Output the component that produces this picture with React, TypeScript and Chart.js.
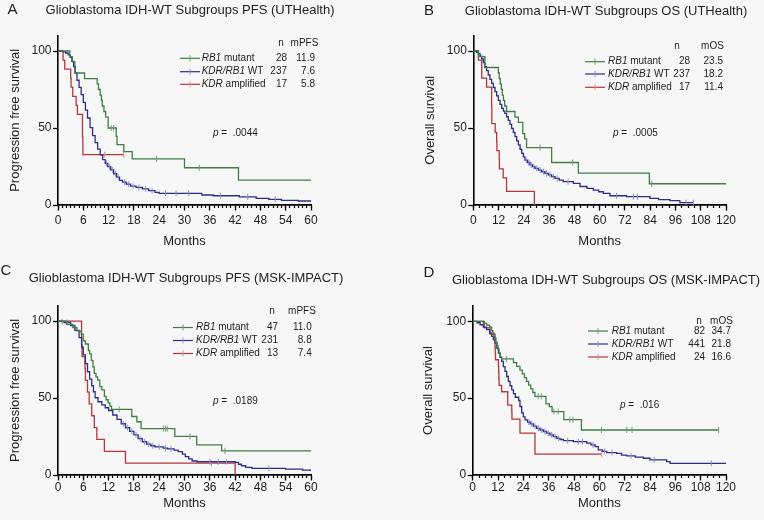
import React, { useEffect, useRef } from 'react';
import { Chart, registerables } from 'chart.js';

Chart.register(...registerables);

// ---------- DATA: [month, survival %, censored flag (1 = censor mark)] ----------
const A_RB1 = [[0,100],[2.8,96.4],[3.4,92.9],[4.0,85.7],[6.3,82.1],[9.3,78.6],[9.6,75.0],[10.0,71.4],[10.3,67.9],[10.5,64.3],[10.9,60.7],[11.3,57.1],[11.9,50.0],[12.6,50.0,1],[13.2,50.0,1],[13.8,44.6],[14.0,39.2],[15.6,34.6],[17.6,30.0],[23.4,30.0,1],[30.0,24.2],[33.5,24.2,1],[42.8,16.1],[60,16.1]];
const A_WT = [[0,100],[1.0,99.6],[1.8,98.7],[2.4,97.5],[2.9,95.8],[3.3,93.2],[3.7,89.9],[4.1,85.7],[4.5,81.0],[5.0,76.4],[5.5,71.7],[6.0,66.7],[6.5,61.6],[7.0,56.5],[7.6,50.2],[8.2,45.1],[8.8,40.5],[9.4,36.3],[10.0,32.5],[10.6,29.5],[11.2,27.0],[11.5,27.0,1],[11.8,24.9],[12.2,24.9,1],[12.5,22.8],[12.9,22.8,1],[13.2,20.3],[13.6,20.3,1],[13.9,18.1],[14.3,18.1,1],[14.6,16.0],[15.3,14.8],[15.8,14.8,1],[16.2,13.5],[16.7,13.5,1],[17.2,12.2],[17.8,12.2,1],[18.5,11.4],[19.2,11.4,1],[20.0,10.5],[20.8,10.5,1],[21.5,9.3],[22.3,9.3,1],[23.0,8.2],[24.0,7.6],[25.5,7.6,1],[28.0,7.6,1],[31.0,7.6,1],[34.1,6.5],[36.8,6.0],[38.5,6.0,1],[43.0,5.3],[45.0,5.3,1],[47.0,4.3],[50.0,3.7],[51.5,3.7,1],[53.0,3.0],[57.0,2.6],[60,2.6]];
const A_KDR = [[0,100],[1.2,94.1],[1.6,88.2],[3.0,82.4],[3.1,76.5],[3.5,70.6],[4.3,64.7],[4.6,58.8],[5.8,44.1],[5.9,32.7],[11.0,32.7,1],[15.6,32.7,1]];

const B_RB1 = [[0,100],[2.5,96.4],[5.5,89.3],[11.9,85.7],[12.3,82.1],[12.8,78.6],[13.3,75.0],[13.8,71.4],[14.3,67.9],[14.9,64.3],[15.8,60.7],[19.8,57.1],[21.4,53.6],[23.5,46.4],[24.4,42.9],[25.3,37.3],[31.7,37.3,1],[37.2,27.6],[47.2,27.6,1],[49.9,20.7],[83.6,13.8],[84.7,13.8,1],[120,13.8]];
const B_WT = [[0,100],[1.5,99.2],[2.4,98.3],[3.2,96.6],[4.0,94.9],[4.8,92.4],[5.5,89.9],[6.3,87.3],[7.1,84.4],[7.9,81.6],[8.7,79.0],[9.5,76.3],[10.3,73.6],[11.1,70.8],[11.9,68.0],[12.7,65.4],[13.5,62.8],[14.3,61.0],[15.0,59.5],[15.8,57.3],[16.6,55.0],[17.4,52.4],[18.2,49.8],[19.0,47.1],[19.8,44.4],[20.6,41.7],[21.4,39.0],[22.2,36.2],[23.0,33.5],[23.8,31.3],[24.5,29.2],[25.1,29.2,1],[25.7,27.6],[26.3,27.6,1],[26.9,26.0],[27.5,26.0,1],[28.1,24.9],[28.7,24.9,1],[29.3,23.8],[30.1,23.8,1],[30.9,22.7],[31.7,22.7,1],[32.5,21.6],[33.3,21.6,1],[34.0,20.5],[34.8,20.5,1],[35.6,19.5],[36.4,19.5,1],[37.2,18.4],[38.0,18.4,1],[38.8,17.3],[39.8,17.3,1],[40.8,16.2],[42.7,15.2],[45.0,15.2,1],[47.5,14.0],[50.7,12.0],[54.0,10.8],[57.0,9.7],[59.5,8.6],[61.7,7.6],[64.9,6.0],[68.0,6.0,1],[72.8,5.4],[76.0,5.4,1],[78.0,5.4,1],[83.9,4.3],[88.0,3.5],[93.4,2.8],[98.1,1.5],[101.0,1.5,1],[104.5,1.5,1]];
const B_KDR = [[0,100],[2.4,94.1],[4.0,82.4],[6.3,76.5],[8.7,64.7],[8.8,52.9],[10.4,47.1],[11.1,41.2],[11.2,35.3],[12.3,29.4],[12.4,23.5],[14.2,17.6],[15.8,8.8],[29.0,0]];

const C_RB1 = [[0,100],[2.0,97.9],[3.5,95.7],[4.5,93.6],[5.5,91.5],[6.0,87.2],[6.5,85.1],[7.2,80.9],[7.5,78.7],[7.9,74.5],[8.3,70.2],[8.6,66.0],[9.0,63.8],[9.4,61.7],[9.9,57.4],[10.4,55.3],[11.0,51.1],[11.4,48.9],[11.9,46.8],[12.3,44.7],[12.7,42.6],[14.5,42.6,1],[17.5,38.0],[18.7,34.6],[19.7,30.1],[25.0,30.1,1],[25.5,30.1,1],[25.9,30.1,1],[27.7,25.1],[31.3,25.1,1],[32.9,19.6],[38.8,15.7],[39.6,15.7,1],[60,15.7]];
const C_WT = [[0,100],[1.0,99.6,1],[1.5,99.1],[2.2,99.1,1],[3.0,97.0],[4.0,94.0],[5.0,89.2],[5.6,83.1],[6.0,78.0],[6.5,72.3],[7.0,67.1],[7.5,62.3],[8.0,58.0],[8.4,54.1],[8.8,50.2],[9.5,47.6],[10.4,45.5],[11.2,43.7],[12.0,41.9],[13.0,39.0],[14.0,36.2],[15.0,33.3],[15.5,33.3,1],[16.0,30.7],[16.5,30.7,1],[17.0,28.4],[17.5,28.4,1],[18.0,26.1],[18.5,26.1,1],[19.0,23.6],[19.5,23.6,1],[20.0,21.6],[20.5,21.6,1],[21.0,20.1],[21.5,20.1,1],[22.0,19.0],[22.5,19.0,1],[23.0,18.3],[24.0,18.3,1],[25.0,17.5],[25.5,17.5,1],[26.0,17.0],[26.8,17.0,1],[27.5,16.1],[28.5,15.2],[29.5,13.6],[30.2,12.0],[31.0,10.5],[31.8,9.1],[33.0,8.6],[36.0,8.6,1],[38.0,8.6,1],[40.0,8.6,1],[42.0,8.2],[42.8,7.0],[43.5,6.0],[44.5,5.0],[46.0,4.3],[50.0,4.3,1],[54.0,3.8],[58.0,3.2],[60,2.6]];
const C_KDR = [[0,100],[5.6,84.6],[5.7,76.9],[6.4,69.2],[6.5,61.5],[7.0,53.8],[7.4,46.2],[8.0,38.5],[8.6,30.8],[9.2,23.1],[11.0,15.4],[16.0,7.7],[36.4,7.7,1],[42.0,0]];

const D_RB1 = [[0,100],[5.0,98.8],[6.6,97.6],[8.0,96.3],[9.0,93.9],[9.5,92.7],[10.0,90.2],[10.5,89.0],[11.0,86.6],[11.5,84.1],[12.0,81.7],[12.5,79.3],[13.0,76.8],[13.7,75.6],[16.0,75.6,1],[19.3,73.2],[20.8,70.7],[22.4,68.3],[23.5,65.8],[24.5,63.4],[25.5,61.0],[26.5,58.5],[27.5,56.1],[28.5,53.7],[29.5,51.2],[31.0,51.2,1],[32.5,51.2,1],[34.7,46.3],[36.3,44.5],[37.6,41.3],[38.5,41.3,1],[40.5,41.3,1],[43.2,36.0],[46.0,36.0,1],[47.5,36.0,1],[51.5,29.3],[61.0,29.3,1],[73.0,29.3,1],[75.5,29.3,1],[116.5,29.3,1]];
const D_WT = [[0,100],[2.0,99.1],[3.5,97.8],[5.0,96.2],[6.6,94.6],[8.0,92.4],[9.0,90.2],[9.8,88.0],[10.6,85.9],[11.4,82.6],[12.2,79.3],[13.0,76.6],[13.7,73.9],[14.5,70.6],[15.3,67.4],[16.1,64.1],[16.9,60.9],[17.7,58.1],[18.5,55.4],[19.3,53.0],[20.2,50.6],[21.8,48.5],[22.4,44.6],[23.2,40.5],[24.0,37.8],[24.8,35.9],[26.0,34.5],[26.6,34.5,1],[27.2,33.3],[28.0,33.3,1],[28.7,31.8],[29.5,31.8,1],[30.3,30.4],[31.1,30.4,1],[31.9,29.3],[32.7,29.3,1],[33.5,28.3],[34.2,28.3,1],[35.0,27.2],[35.8,27.2,1],[36.6,26.1],[37.4,26.1,1],[38.2,25.0],[39.0,25.0,1],[39.8,23.9],[40.6,23.9,1],[41.4,23.1],[43.0,22.4],[45.0,22.4,1],[47.7,21.7],[50.0,21.7,1],[52.0,21.7,1],[54.0,20.7],[56.0,19.6],[57.0,19.6,1],[58.0,18.5],[59.5,16.3],[61.5,15.4],[62.5,15.4,1],[63.5,14.6],[66.0,14.6,1],[68.2,14.1],[70.5,13.0],[73.0,12.4],[75.0,12.4,1],[77.0,11.6],[80.8,10.9],[84.0,9.8],[86.0,9.8,1],[91.9,8.7],[93.5,7.6],[113.0,7.6,1],[120,7.6]];
const D_KDR = [[0,100],[5.5,95.8],[8.2,91.7],[10.6,83.3],[10.7,79.2],[10.8,75.0],[12.2,70.8],[12.3,66.7],[12.4,62.5],[12.5,58.3],[13.7,54.2],[16.6,45.5],[18.5,40.9],[18.6,36.4],[22.4,27.3],[29.5,13.6],[61.1,13.6,1]];

const SERIES = [[A_RB1, A_WT, A_KDR], [B_RB1, B_WT, B_KDR], [C_RB1, C_WT, C_KDR], [D_RB1, D_WT, D_KDR]];

const PANEL_LETTERS = ['A', 'B', 'C', 'D'];
const PANEL_TITLES = [
  'Glioblastoma IDH-WT Subgroups PFS (UTHealth)',
  'Glioblastoma IDH-WT Subgroups OS (UTHealth)',
  'Glioblastoma IDH-WT Subgroups PFS (MSK-IMPACT)',
  'Glioblastoma IDH-WT Subgroups OS (MSK-IMPACT)',
];
const Y_TITLES = ['Progression free survival', 'Overall survival', 'Progression free survival', 'Overall survival'];
const X_TITLE = 'Months';
const X_MAX = [60, 120, 60, 120];
const X_MAJOR_STEP = [6, 12, 6, 12];
const X_MINOR_STEP = [1, 3, 1, 3];
const Y_TICKS = [0, 50, 100];
const Y_MAX = 110;

const GROUP_NAMES = ['RB1 mutant', 'KDR/RB1 WT', 'KDR amplified'];
const GROUP_LABELS = [
  [{ t: 'RB1', i: true }, { t: ' mutant', i: false }],
  [{ t: 'KDR/RB1', i: true }, { t: ' WT', i: false }],
  [{ t: 'KDR', i: true }, { t: ' amplified', i: false }],
];
const N_VALUES = [[28, 237, 17], [28, 237, 17], [47, 231, 13], [82, 441, 24]];
const MEDIANS = [['11.9', '7.6', '5.8'], ['23.5', '18.2', '11.4'], ['11.0', '8.8', '7.4'], ['34.7', '21.8', '16.6']];
const MEDIAN_HEADERS = ['mPFS', 'mOS', 'mPFS', 'mOS'];
const P_VALUES = ['.0044', '.0005', '.0189', '.016'];

// ---------- STYLE / LAYOUT ----------
const FONT = "'Liberation Sans', Arial, Helvetica, sans-serif";
const TEXT = '#1e1e1e';
const BG = '#f7f7f7';
const LINE_COLORS = ['#3f7f46', '#2d2d86', '#b5373b'];
const CENSOR_COLORS = ['#6f9f74', '#8e8ed8', '#dd8a8a'];
const CW = 382;
const CH = 260;

const GEOM = [
  { cx: 0, cy: 0, plotL: 58, plotR: 311, plotT: 35.6, plotB: 205, yTitleX: 15, xLabY: 221, monthsY: 241.5,
    letter: [12.5, 10], title: [190, 10.5],
    leg: { hdrY: 43.5, rows: [58.3, 71.7, 84.3], lineX: [180, 200], labX: 201.7, nHdrX: 281, nR: 287, mHdrX: 304.5, mR: 315 }, p: [213, 133.3] },
  { cx: 382, cy: 0, plotL: 473.3, plotR: 726, plotT: 35.6, plotB: 205, yTitleX: 430, xLabY: 221, monthsY: 241.5,
    letter: [429, 10.7], title: [606, 11.7],
    leg: { hdrY: 46.7, rows: [61.7, 74, 87.3], lineX: [585, 605], labX: 608, nHdrX: 677, nR: 690, mHdrX: 712.5, mR: 723 }, p: [613, 133.3] },
  { cx: 0, cy: 260, plotL: 58, plotR: 311, plotT: 305.7, plotB: 475, yTitleX: 15, xLabY: 488, monthsY: 503,
    letter: [6, 270.7], title: [186, 278],
    leg: { hdrY: 311.7, rows: [327.5, 340.5, 353.5], lineX: [173, 193], labX: 196, nHdrX: 272, nR: 278, mHdrX: 302, mR: 311.7 }, p: [213, 401.7] },
  { cx: 382, cy: 260, plotL: 472.7, plotR: 726, plotT: 306, plotB: 475, yTitleX: 428.3, xLabY: 488, monthsY: 503,
    letter: [429, 273], title: [606, 280],
    leg: { hdrY: 321.7, rows: [331, 344, 357], lineX: [588, 608], labX: 611.7, nHdrX: 699, nR: 705, mHdrX: 721.5, mR: 731 }, p: [620, 405] },
];

const TICK_FONT = { family: FONT, size: 12 };
const TITLE_FONT = { family: FONT, size: 13 };
const MAJOR_TICK_LEN = 5.5;

function annotPlugin(idx: number) {
  return {
    id: 'annot' + idx,
    afterDraw(chart: any) {
      const ctx = chart.ctx as CanvasRenderingContext2D;
      const g = GEOM[idx];
      const X = (v: number) => v - g.cx;
      const Y = (v: number) => v - g.cy;
      ctx.save();
      ctx.textBaseline = 'middle';
      ctx.fillStyle = TEXT;
      ctx.textAlign = 'center';
      ctx.font = `15px ${FONT}`;
      ctx.fillText(PANEL_LETTERS[idx], X(g.letter[0]), Y(g.letter[1]));
      ctx.font = `13px ${FONT}`;
      ctx.fillText(PANEL_TITLES[idx], X(g.title[0]), Y(g.title[1]));

      const L = g.leg;
      ctx.font = `10px ${FONT}`;
      ctx.fillText('n', X(L.nHdrX), Y(L.hdrY));
      ctx.fillText(MEDIAN_HEADERS[idx], X(L.mHdrX), Y(L.hdrY));
      L.rows.forEach((ry, k) => {
        const y = Y(ry);
        ctx.strokeStyle = LINE_COLORS[k];
        ctx.lineWidth = 1.2;
        ctx.beginPath();
        ctx.moveTo(X(L.lineX[0]), y);
        ctx.lineTo(X(L.lineX[1]), y);
        ctx.stroke();
        const mx = X((L.lineX[0] + L.lineX[1]) / 2);
        ctx.strokeStyle = CENSOR_COLORS[k];
        ctx.lineWidth = 1;
        ctx.beginPath();
        ctx.moveTo(mx, y - 3);
        ctx.lineTo(mx, y + 3);
        ctx.stroke();
        let x = X(L.labX);
        ctx.textAlign = 'left';
        for (const part of GROUP_LABELS[k]) {
          ctx.font = `${part.i ? 'italic ' : ''}10px ${FONT}`;
          ctx.fillText(part.t, x, y);
          x += ctx.measureText(part.t).width;
        }
        ctx.font = `10px ${FONT}`;
        ctx.textAlign = 'right';
        ctx.fillText(String(N_VALUES[idx][k]), X(L.nR), y);
        ctx.fillText(MEDIANS[idx][k], X(L.mR), y);
        ctx.textAlign = 'center';
      });

      ctx.textAlign = 'left';
      ctx.font = `italic 10px ${FONT}`;
      const px = X(g.p[0]);
      const py = Y(g.p[1]);
      ctx.fillText('p', px, py);
      const w = ctx.measureText('p').width;
      ctx.font = `10px ${FONT}`;
      ctx.fillText(' =  ' + P_VALUES[idx], px + w, py);
      ctx.restore();
    },
  };
}

function buildConfig(idx: number): any {
  const g = GEOM[idx];
  const yAxisW = g.plotL - g.cx;
  const padRight = g.cx + CW - g.plotR;
  const padTop = g.plotT - g.cy;
  const xAxisH = g.cy + CH - g.plotB;
  const tickLH = TICK_FONT.size * 1.2;
  const titleLH = TITLE_FONT.size * 1.2;
  const xTickPad = g.xLabY - g.plotB - MAJOR_TICK_LEN - tickLH / 2;
  const xTitlePad = g.cy + CH - g.monthsY - titleLH / 2;
  const yTitlePad = g.yTitleX - g.cx - titleLH / 2;

  const datasets = SERIES[idx].map((s, k) => ({
    label: GROUP_NAMES[k],
    data: s.map((p) => ({ x: p[0], y: p[1], c: p[2] === 1 })),
    stepped: 'before',
    borderColor: LINE_COLORS[k],
    borderWidth: 1.3,
    fill: false,
    tension: 0,
    pointStyle: 'line',
    pointRotation: 90,
    pointRadius: (c: any) => (c.raw && c.raw.c ? 3 : 0),
    pointHoverRadius: 0,
    pointBorderColor: CENSOR_COLORS[k],
    pointBorderWidth: 1,
    xAxisID: 'x',
    yAxisID: 'y',
  }));

  const axisBorder = { display: true, color: '#000', width: 1.6 };

  return {
    type: 'line',
    data: { datasets },
    options: {
      responsive: false,
      devicePixelRatio: 1,
      animation: false,
      events: [],
      layout: { padding: { left: 0, right: padRight, top: padTop, bottom: 0 } },
      plugins: { legend: { display: false }, tooltip: { enabled: false }, title: { display: false } },
      scales: {
        x: {
          type: 'linear', position: 'bottom', weight: 0, min: 0, max: X_MAX[idx],
          ticks: { stepSize: X_MINOR_STEP[idx], autoSkip: false, maxRotation: 0, padding: 0, callback: () => '' },
          grid: { drawOnChartArea: false, drawTicks: true, tickLength: 3, tickWidth: 1.2, tickColor: '#000' },
          border: axisBorder,
          afterFit: (s: any) => { s.height = 0; },
        },
        xMajor: {
          type: 'linear', position: 'bottom', weight: 1, min: 0, max: X_MAX[idx],
          ticks: { stepSize: X_MAJOR_STEP[idx], autoSkip: false, maxRotation: 0, minRotation: 0, padding: xTickPad, font: TICK_FONT, color: TEXT },
          grid: { drawOnChartArea: false, drawTicks: true, tickLength: MAJOR_TICK_LEN, tickWidth: 1.3, tickColor: '#000' },
          border: axisBorder,
          title: { display: true, text: X_TITLE, font: TITLE_FONT, color: TEXT, padding: { top: 0, bottom: xTitlePad } },
          afterFit: (s: any) => { s.height = xAxisH; },
        },
        y: {
          type: 'linear', position: 'left', min: 0, max: Y_MAX,
          afterBuildTicks: (s: any) => { s.ticks = Y_TICKS.map((v) => ({ value: v })); },
          ticks: { padding: 1.5, font: TICK_FONT, color: TEXT },
          grid: { drawOnChartArea: false, drawTicks: true, tickLength: 5, tickWidth: 1.3, tickColor: '#000' },
          border: axisBorder,
          title: { display: true, text: Y_TITLES[idx], font: TITLE_FONT, color: TEXT, padding: { top: yTitlePad, bottom: 0 } },
          afterFit: (s: any) => { s.width = yAxisW; },
        },
      },
    },
    plugins: [annotPlugin(idx)],
  };
}

function Panel({ idx }: { idx: number }) {
  const ref = useRef<HTMLCanvasElement>(null);
  useEffect(() => {
    if (!ref.current) return;
    const chart = new Chart(ref.current, buildConfig(idx));
    return () => chart.destroy();
  }, [idx]);
  const g = GEOM[idx];
  return (
    <canvas
      ref={ref}
      width={CW}
      height={CH}
      style={{ position: 'absolute', left: g.cx, top: g.cy, width: CW, height: CH, display: 'block' }}
    />
  );
}

export default function App() {
  return (
    <div style={{ position: 'fixed', left: 0, top: 0, width: 764, height: 520, background: BG, overflow: 'hidden' }}>
      {[0, 1, 2, 3].map((i) => (
        <Panel key={i} idx={i} />
      ))}
    </div>
  );
}
